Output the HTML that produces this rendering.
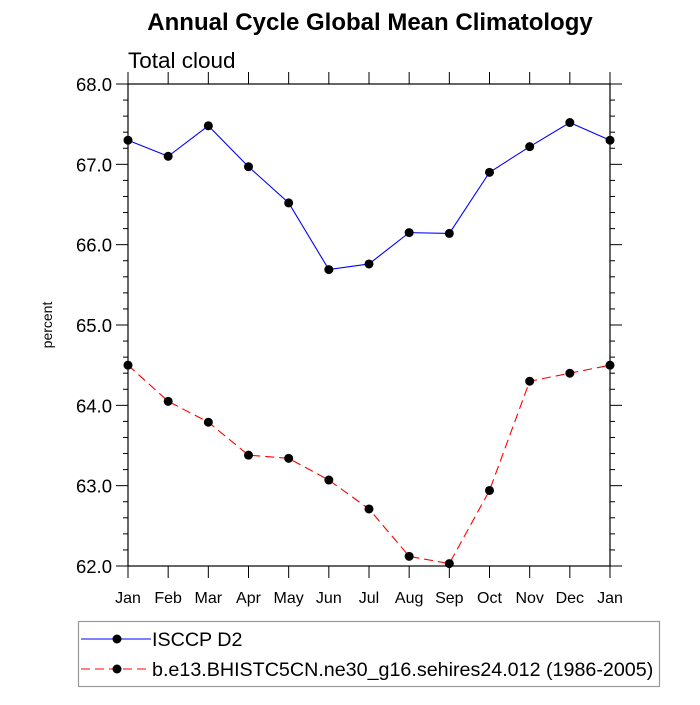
<!DOCTYPE html>
<html><head><meta charset="utf-8"><style>
body{margin:0;background:#fff}
text{font-family:"Liberation Sans",sans-serif}
</style></head><body>
<svg id="chart" width="700" height="700" xmlns="http://www.w3.org/2000/svg">
<text x="370" y="30" text-anchor="middle" font-size="24" font-weight="bold">Annual Cycle Global Mean Climatology</text>
<text x="128" y="68" font-size="22.5">Total cloud</text>
<text transform="translate(52,325) rotate(-90)" text-anchor="middle" font-size="14">percent</text>
<g id="axes"></g>
<g id="series"></g>
<rect x="78.5" y="621.5" width="581" height="65" fill="none" stroke="#999" stroke-width="1.2"/>
<g id="legend"></g>
</svg>
<script>
const months=["Jan","Feb","Mar","Apr","May","Jun","Jul","Aug","Sep","Oct","Nov","Dec","Jan"];
const isccp=[67.30,67.10,67.48,66.97,66.52,65.69,65.76,66.15,66.14,66.90,67.22,67.52,67.30];
const model=[64.50,64.05,63.79,63.38,63.34,63.07,62.71,62.12,62.03,62.94,64.30,64.40,64.50];
const yTicks=[62,63,64,65,66,67,68];
const legendLabels=["ISCCP D2","b.e13.BHISTC5CN.ne30_g16.sehires24.012 (1986-2005)"];
const NS="http://www.w3.org/2000/svg";
const L=128,R=610,T=84,B=566,ymin=62,ymax=68;
const xs=i=>L+(R-L)*i/(months.length-1);
const ys=v=>B-(B-T)*(v-ymin)/(ymax-ymin);
function mk(tag,attrs,parent){const e=document.createElementNS(NS,tag);for(const k in attrs)e.setAttribute(k,attrs[k]);parent.appendChild(e);return e;}
const ax=document.getElementById('axes');
const frame=mk('rect',{x:L,y:T,width:R-L,height:B-T,fill:'none',stroke:'#000','stroke-width':1.2},ax);


months.forEach((m,i)=>{
  const x=xs(i);
  mk('line',{x1:x,x2:x,y1:B,y2:B+12,stroke:'#000'},ax);
  mk('line',{x1:x,x2:x,y1:T,y2:T-12,stroke:'#000'},ax);
  const t=mk('text',{x:x,y:B+37,'text-anchor':'middle','font-size':16},ax);
  t.textContent=m;
  
  
});
for(let v=ymin;v<=ymax+1e-9;v+=0.2){
  const y=ys(v);const major=Math.abs(v-Math.round(v))<1e-6;const len=major?12:5;
  mk('line',{x1:L,x2:L-len,y1:y,y2:y,stroke:'#000'},ax);
  mk('line',{x1:R,x2:R+len,y1:y,y2:y,stroke:'#000'},ax);
}
yTicks.forEach(v=>{
  const t=mk('text',{x:L-16,y:ys(v)+7,'text-anchor':'end','font-size':18.5},ax);
  t.textContent=v.toFixed(1);
  
  
});
const sg=document.getElementById('series');
function series(data,color,dash,name){
  const p=mk('polyline',{points:data.map((v,i)=>xs(i)+','+ys(v)).join(' '),fill:'none',stroke:color,'stroke-width':1.1,'stroke-dasharray':dash},sg);
  
  
  data.forEach((v,i)=>{
    const c=mk('circle',{cx:xs(i),cy:ys(v),r:4.5,fill:'#000'},sg);
    
    
  });
}
series(isccp,'#0000ff','none','isccp');
series(model,'#ff0000','9,5','model');
const lg=document.getElementById('legend');
[['#0000ff','none'],['#ff0000','9,5']].forEach((s,i)=>{
  const y=639+i*30;
  const g=mk('g',{},lg);
  
  
  mk('line',{x1:81,x2:151,y1:y,y2:y,stroke:s[0],'stroke-width':1.1,'stroke-dasharray':s[1]},g);
  mk('circle',{cx:117,cy:y,r:4.5,fill:'#000'},g);
  const t=mk('text',{x:152,y:y+7,'font-size':19.7},g);
  t.textContent=legendLabels[i];
});
</script>
</body></html>
